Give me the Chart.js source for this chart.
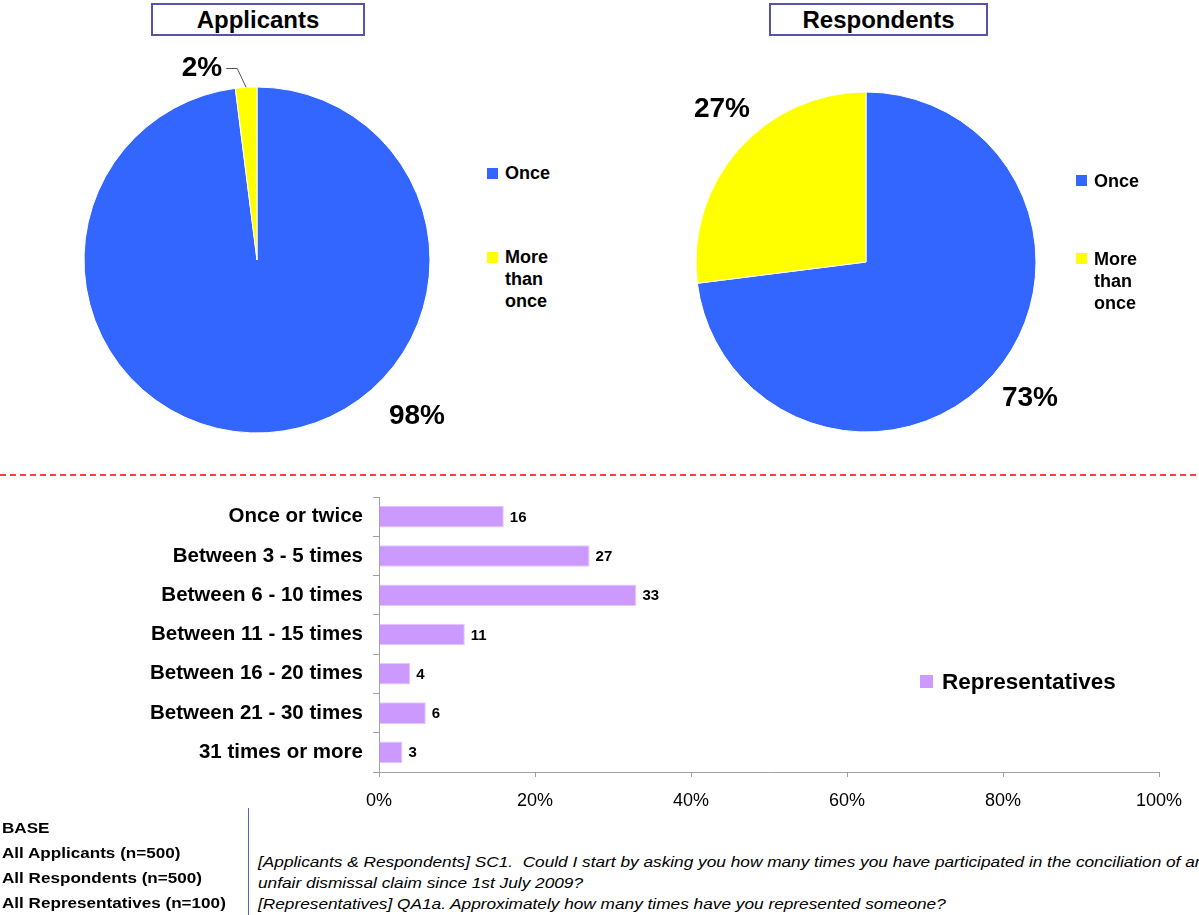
<!DOCTYPE html>
<html>
<head>
<meta charset="utf-8">
<script src="https://cdn.jsdelivr.net/npm/chart.js@4.4.1/dist/chart.umd.min.js"></script>
<style>
  body { margin: 0; width: 1199px; height: 915px; position: relative; background: #fff; overflow: hidden;
         font-family: "Liberation Sans", Arial, sans-serif; color: #000; }
  .abs { position: absolute; }
  .title-box { position: absolute; top: 3px; height: 33px; box-sizing: border-box; border: 2px solid #5454AC;
               text-align: center; font-weight: bold; font-size: 24px; line-height: 29px; background: #fff; }
  .leg { position: absolute; font-weight: bold; font-size: 18px; line-height: 22px; }
  .sq { position: absolute; width: 11px; height: 11px; }
  .base { position: absolute; left: 2px; font-weight: bold; font-size: 15px; line-height: 20px; white-space: nowrap;
          transform: scaleX(1.14); transform-origin: left center; }
  .q { position: absolute; left: 258px; font-style: italic; font-size: 15px; line-height: 20px; white-space: nowrap;
       transform: scaleX(1.15); transform-origin: left center; }
</style>
</head>
<body>

<div class="title-box" style="left:151px; width:214px;">Applicants</div>
<div class="title-box" style="left:769px; width:219px;">Respondents</div>

<canvas id="applicantsPie" class="abs" style="left:37px; top:40px; width:440px; height:440px;"></canvas>
<canvas id="respondentsPie" class="abs" style="left:646px; top:42px; width:440px; height:440px;"></canvas>

<!-- pie legends -->
<div class="sq" style="left:487px; top:168px; background:#3366FF;"></div>
<div class="leg" style="left:505px; top:162px;">Once</div>
<div class="sq" style="left:487px; top:252px; background:#FFFF00;"></div>
<div class="leg" style="left:505px; top:246px;">More<br>than<br>once</div>

<div class="sq" style="left:1076px; top:175px; background:#3366FF;"></div>
<div class="leg" style="left:1094px; top:170px;">Once</div>
<div class="sq" style="left:1076px; top:253px; background:#FFFF00;"></div>
<div class="leg" style="left:1094px; top:248px;">More<br>than<br>once</div>

<svg class="abs" style="left:0; top:470px;" width="1199" height="10">
  <line x1="0" y1="5" x2="1199" y2="5" stroke="#FF0000" stroke-width="1.5" stroke-dasharray="6,4"/>
</svg>

<canvas id="repsBar" class="abs" style="left:0; top:480px; width:1199px; height:340px;"></canvas>

<div class="sq" style="left:920px; top:675px; width:13px; height:13px; background:#CC99FF;"></div>
<div class="leg" style="left:942px; top:669px; font-size:22.5px; line-height:26px;">Representatives</div>

<!-- footer -->
<div class="abs" style="left:248px; top:808px; width:1px; height:107px; background:#6060B0;"></div>
<div class="base" style="top:818px;">BASE</div>
<div class="base" style="top:843px;">All Applicants (n=500)</div>
<div class="base" style="top:868px;">All Respondents (n=500)</div>
<div class="base" style="top:893px;">All Representatives (n=100)</div>
<div class="q" style="top:852px;">[Applicants &amp; Respondents] SC1.&nbsp; Could I start by asking you how many times you have participated in the conciliation of an</div>
<div class="q" style="top:873px;">unfair dismissal claim since 1st July 2009?</div>
<div class="q" style="top:894px;">[Representatives] QA1a. Approximately how many times have you represented someone?</div>

<script>
// datos
const pieLabels = ['Once', 'More than once'];
const applicantsValues = [98, 2];
const respondentsValues = [73, 27];

const barCategories = [
  'Once or twice',
  'Between 3 - 5 times',
  'Between 6 - 10 times',
  'Between 11 - 15 times',
  'Between 16 - 20 times',
  'Between 21 - 30 times',
  '31 times or more'
];
const representativesValues = [16, 27, 33, 11, 4, 6, 3];
const axisTicks = [0, 20, 40, 60, 80, 100];

const FONT = '"Liberation Sans", Arial, sans-serif';
Chart.defaults.font.family = FONT;
Chart.defaults.color = '#000';

// etiquetas de porcentaje sobre los pasteles
const pctLabels = {
  id: 'pctLabels',
  afterDatasetsDraw(chart, args, opts) {
    const ctx = chart.ctx;
    const meta = chart.getDatasetMeta(0);
    const data = chart.data.datasets[0].data;
    ctx.save();
    ctx.font = 'bold 28px ' + FONT;
    ctx.fillStyle = '#000';
    ctx.textAlign = 'center';
    ctx.textBaseline = 'middle';
    meta.data.forEach((arc, i) => {
      const txt = data[i] + '%';
      const x = arc.x + opts.offsets[i][0];
      const y = arc.y + opts.offsets[i][1];
      if (opts.leader[i]) {
        const w = ctx.measureText(txt).width;
        const mid = (arc.startAngle + arc.endAngle) / 2;
        const ex = arc.x + Math.cos(mid) * arc.outerRadius;
        const ey = arc.y + Math.sin(mid) * arc.outerRadius;
        const sx = x + w / 2 + 4;
        ctx.strokeStyle = '#555';
        ctx.lineWidth = 1;
        ctx.beginPath();
        ctx.moveTo(sx, y + 0.5);
        ctx.lineTo(sx + 11, y + 0.5);
        ctx.lineTo(ex, ey);
        ctx.stroke();
      }
      ctx.fillText(txt, x, y);
    });
    ctx.restore();
  }
};

function makePie(id, values, radius, offsets, leader) {
  return new Chart(document.getElementById(id), {
    type: 'pie',
    data: {
      labels: pieLabels,
      datasets: [{
        data: values,
        backgroundColor: ['#3366FF', '#FFFF00'],
        borderColor: '#ffffff',
        borderWidth: 1,
        hoverOffset: 0
      }]
    },
    options: {
      responsive: false,
      animation: false,
      events: [],
      radius: radius,
      layout: { padding: 0 },
      plugins: {
        legend: { display: false },
        tooltip: { enabled: false },
        pctLabels: { offsets, leader }
      }
    },
    plugins: [pctLabels]
  });
}

function sizeCanvas(id) {
  const c = document.getElementById(id);
  c.width = parseInt(c.style.width);
  c.height = parseInt(c.style.height);
}
['applicantsPie', 'respondentsPie', 'repsBar'].forEach(sizeCanvas);

makePie('applicantsPie', applicantsValues, 173, [[160, 156], [-55, -192]], [false, true]);
makePie('respondentsPie', respondentsValues, 170, [[164, 136], [-144, -153]], [false, false]);

// valores al final de cada barra
const barValues = {
  id: 'barValues',
  afterDatasetsDraw(chart) {
    const ctx = chart.ctx;
    const meta = chart.getDatasetMeta(0);
    const data = chart.data.datasets[0].data;
    ctx.save();
    ctx.font = 'bold 15px ' + FONT;
    ctx.fillStyle = '#000';
    ctx.textAlign = 'left';
    ctx.textBaseline = 'middle';
    meta.data.forEach((bar, i) => ctx.fillText(String(data[i]), bar.x + 6, bar.y + 1));
    ctx.restore();
  }
};

new Chart(document.getElementById('repsBar'), {
  type: 'bar',
  data: {
    labels: barCategories,
    datasets: [{
      label: 'Representatives',
      data: representativesValues,
      backgroundColor: '#CC99FF',
      borderColor: '#E2C8FF',
      borderWidth: 1,
      barPercentage: 0.55,
      categoryPercentage: 1
    }]
  },
  options: {
    indexAxis: 'y',
    responsive: false,
    animation: false,
    events: [],
    layout: { padding: { left: 0, right: 40, top: 17, bottom: 0 } },
    plugins: { legend: { display: false }, tooltip: { enabled: false } },
    scales: {
      x: {
        min: 0,
        max: 100,
        afterBuildTicks: (s) => { s.ticks = axisTicks.map(v => ({ value: v })); },
        afterFit: (s) => { s.height = 48; },
        grid: { drawOnChartArea: false, drawTicks: true, tickLength: 5, color: '#A0A0A0' },
        border: { display: true, color: '#A0A0A0' },
        ticks: { callback: v => v + '%', font: { size: 18 }, color: '#000', padding: 13, maxRotation: 0 }
      },
      y: {
        afterFit: (s) => { s.width = 379; s.paddingTop = 0; s.paddingBottom = 0; },
        grid: { drawOnChartArea: false, drawTicks: true, tickLength: 6, color: '#A0A0A0', offset: true },
        border: { display: true, color: '#A0A0A0' },
        ticks: { font: { size: 20.5, weight: 'bold' }, color: '#000', padding: 10 }
      }
    }
  },
  plugins: [barValues]
});
</script>
</body>
</html>
